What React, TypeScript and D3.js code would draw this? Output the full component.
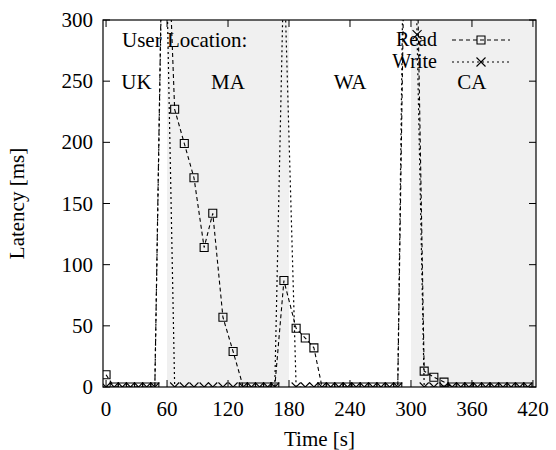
import { useEffect, useRef } from 'react';
import * as d3 from 'd3';

// sample times [s] shared by both series
const times = [
  0, 8, 16, 24, 32, 40, 48, 57,
  67.5, 77, 86.5, 96.5, 105, 115, 125,
  135, 143, 151, 159, 166, 175,
  187, 196, 204.5,
  212.5, 221, 229, 237.5, 246, 254, 262.5, 270.5, 279, 287,
  297, 306, 313, 322.5, 332.5,
  340.5, 349, 357, 365.5, 373.5, 382, 390.5, 398.5, 407, 415,
];

// latency [ms]
const readLatency = [
  10, 0, 0, 0, 0, 0, 0, 460,
  227, 199, 171, 114, 142, 57, 29,
  0, 0, 0, 0, 0, 87,
  48, 40, 32,
  0, 0, 0, 0, 0, 0, 0, 0, 0, 0,
  560, 350, 13, 8, 4,
  0, 0, 0, 0, 0, 0, 0, 0, 0, 0,
];

const writeLatency = [
  0, 0, 0, 0, 0, 0, 0, 450,
  0, 0, 0, 0, 0, 0, 0,
  0, 0, 0, 0, 0, 350,
  0, 0, 0,
  0, 0, 0, 0, 0, 0, 0, 0, 0, 0,
  650, 288, 0, 0, 0,
  0, 0, 0, 0, 0, 0, 0, 0, 0, 0,
];

// user location periods
const locationNames = ['UK', 'MA', 'WA', 'CA'];
const locationStart = [0, 60, 180, 300];
const locationEnd = [60, 180, 300, 423];
const locationShaded = [false, true, false, true];

const xTicks = [0, 60, 120, 180, 240, 300, 360, 420];
const yTicks = [0, 50, 100, 150, 200, 250, 300];

export default function App() {
  const svgRef = useRef<SVGSVGElement>(null);

  useEffect(() => {
    const svg = d3.select(svgRef.current);
    svg.selectAll('*').remove();

    const width = 556;
    const height = 450;
    const left = 103, right = 536, top = 20, bottom = 387;
    const font = '"Liberation Serif", "Times New Roman", serif';
    const fontSize = '21px';

    svg.attr('width', width).attr('height', height);

    const x = d3.scaleLinear().domain([-3, 423]).range([left, right]);
    const y = d3.scaleLinear().domain([0, 300]).range([bottom, top]);

    svg.append('defs')
      .append('clipPath')
      .attr('id', 'plot-clip')
      .append('rect')
      .attr('x', left)
      .attr('y', top)
      .attr('width', right - left)
      .attr('height', bottom - top);

    // shaded location bands
    svg.append('g')
      .selectAll('rect')
      .data(locationNames.map((name, i) => ({ name, i })).filter((d) => locationShaded[d.i]))
      .enter()
      .append('rect')
      .attr('x', (d) => x(locationStart[d.i]))
      .attr('y', top)
      .attr('width', (d) => x(locationEnd[d.i]) - x(locationStart[d.i]))
      .attr('height', bottom - top)
      .attr('fill', '#f0f0f0');

    // location labels
    const labels = svg.append('g')
      .style('font-family', font)
      .style('font-size', fontSize)
      .attr('fill', 'black');

    labels.append('text')
      .attr('x', 122)
      .attr('y', 47)
      .text('User Location:');

    labels.selectAll('.loc')
      .data(locationNames)
      .enter()
      .append('text')
      .attr('class', 'loc')
      .attr('x', (d, i) => x((locationStart[i] + Math.min(locationEnd[i], 420)) / 2))
      .attr('y', 89)
      .attr('text-anchor', 'middle')
      .text((d) => d);

    // ticks (inward, mirrored)
    const tickLen = 7;
    const ticks = svg.append('g').attr('stroke', 'black').attr('stroke-width', 1);
    xTicks.forEach((t) => {
      ticks.append('line').attr('x1', x(t)).attr('x2', x(t)).attr('y1', bottom).attr('y2', bottom - tickLen);
      ticks.append('line').attr('x1', x(t)).attr('x2', x(t)).attr('y1', top).attr('y2', top + tickLen);
    });
    yTicks.forEach((t) => {
      ticks.append('line').attr('x1', left).attr('x2', left + tickLen).attr('y1', y(t)).attr('y2', y(t));
      ticks.append('line').attr('x1', right).attr('x2', right - tickLen).attr('y1', y(t)).attr('y2', y(t));
    });

    // series
    const readData = times.map((t, i) => [t, readLatency[i]] as [number, number]);
    const writeData = times.map((t, i) => [t, writeLatency[i]] as [number, number]);

    const line = d3.line<[number, number]>()
      .x((d) => x(d[0]))
      .y((d) => y(d[1]));

    const plot = svg.append('g').attr('clip-path', 'url(#plot-clip)');

    const squarePath = (cx: number, cy: number) => {
      const h = 4;
      return `M${cx - h},${cy - h}h${2 * h}v${2 * h}h${-2 * h}Z`;
    };
    const crossPath = (cx: number, cy: number) => {
      const h = 4.5;
      return `M${cx - h},${cy - h}L${cx + h},${cy + h}M${cx - h},${cy + h}L${cx + h},${cy - h}`;
    };

    plot.append('path')
      .datum(readData)
      .attr('d', line)
      .attr('fill', 'none')
      .attr('stroke', 'black')
      .attr('stroke-width', 1.1)
      .attr('stroke-dasharray', '4,3');

    plot.append('g')
      .selectAll('path')
      .data(readData)
      .enter()
      .append('path')
      .attr('d', (d) => squarePath(x(d[0]), y(d[1])))
      .attr('fill', 'none')
      .attr('stroke', 'black')
      .attr('stroke-width', 1.1);

    plot.append('path')
      .datum(writeData)
      .attr('d', line)
      .attr('fill', 'none')
      .attr('stroke', 'black')
      .attr('stroke-width', 1.2)
      .attr('stroke-dasharray', '2,3');

    plot.append('g')
      .selectAll('path')
      .data(writeData)
      .enter()
      .append('path')
      .attr('d', (d) => crossPath(x(d[0]), y(d[1])))
      .attr('fill', 'none')
      .attr('stroke', 'black')
      .attr('stroke-width', 1.1);

    // frame
    svg.append('rect')
      .attr('x', left)
      .attr('y', top)
      .attr('width', right - left)
      .attr('height', bottom - top)
      .attr('fill', 'none')
      .attr('stroke', 'black')
      .attr('stroke-width', 1.2);

    // tick labels
    const tl = svg.append('g')
      .style('font-family', font)
      .style('font-size', fontSize)
      .attr('fill', 'black');

    tl.selectAll('.xt')
      .data(xTicks)
      .enter()
      .append('text')
      .attr('x', (d) => x(d))
      .attr('y', 416)
      .attr('text-anchor', 'middle')
      .text((d) => d);

    tl.selectAll('.yt')
      .data(yTicks)
      .enter()
      .append('text')
      .attr('x', 93)
      .attr('y', (d) => y(d) + 7)
      .attr('text-anchor', 'end')
      .text((d) => d);

    tl.append('text')
      .attr('x', x(210))
      .attr('y', 446)
      .attr('text-anchor', 'middle')
      .text('Time [s]');

    tl.append('text')
      .attr('transform', `translate(24,${(top + bottom) / 2}) rotate(-90)`)
      .attr('text-anchor', 'middle')
      .text('Latency [ms]');

    // legend
    const legend = svg.append('g');
    const entries = [
      { name: 'Read', dash: '4,3', marker: squarePath, ly: 40 },
      { name: 'Write', dash: '2,3', marker: crossPath, ly: 62 },
    ];
    entries.forEach((e) => {
      legend.append('text')
        .attr('x', 437)
        .attr('y', e.ly + 6)
        .attr('text-anchor', 'end')
        .style('font-family', font)
        .style('font-size', '20px')
        .text(e.name);
      legend.append('line')
        .attr('x1', 452)
        .attr('x2', 510)
        .attr('y1', e.ly)
        .attr('y2', e.ly)
        .attr('stroke', 'black')
        .attr('stroke-width', 1.1)
        .attr('stroke-dasharray', e.dash);
      legend.append('path')
        .attr('d', e.marker(481, e.ly))
        .attr('fill', 'none')
        .attr('stroke', 'black')
        .attr('stroke-width', 1.1);
    });
  }, []);

  return (
    <svg
      ref={svgRef}
      style={{ position: 'absolute', left: 0, top: 0, background: 'white' }}
    ></svg>
  );
}
